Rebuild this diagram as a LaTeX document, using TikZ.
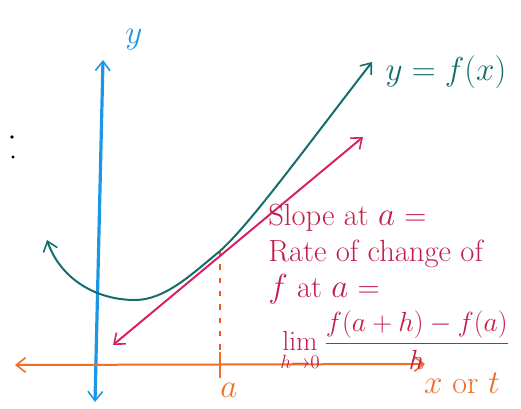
\documentclass[tikz,border=0pt]{standalone}
\usepackage{amsmath, amssymb}
\usetikzlibrary{arrows.meta,positioning,calc}

\definecolor{axisblue}{RGB}{30,150,230}
\definecolor{axisorange}{RGB}{240,110,40}
\definecolor{curveteal}{RGB}{20,110,110}
\definecolor{tanpink}{RGB}{215,35,100}
\definecolor{notered}{RGB}{195,30,75}

\tikzset{
  barb/.style={arrows={Straight Barb[length=7pt,width=11pt,line width=1.2pt]-Straight Barb[length=7pt,width=11pt,line width=1.2pt]}},
  note/.style={text=notered, inner sep=0pt, anchor=west},
}

\begin{document}
\begin{tikzpicture}[x=0.75pt,y=0.75pt,yscale=-1,xscale=1]
\useasboundingbox (0,0) rectangle (521,409);

% axis and curve end points
\coordinate (yTop) at (103,60);
\coordinate (yBot) at (95,402);
\coordinate (xL) at (15,365);
\coordinate (xR) at (425,364);
\coordinate (curveL) at (47,240);
\coordinate (curveMin) at (135,300);
\coordinate (ptA) at (220,251);
\coordinate (curveR) at (372,62);
\coordinate (tanL) at (113,345);
\coordinate (tanR) at (363,137);

%colon at left
\fill (12,137) circle (1.8);
\fill (13,157) circle (1.6);

%y axis
\draw [axisblue, line width=2.4pt, barb]  (yBot) -- (yTop) ;
%x axis
\draw [axisorange, line width=1.5pt, barb]  (xL) -- (xR) ;

%tick and dashed guide at a
\draw [axisorange, line width=1.8pt]  (220,352) -- (220,378) ;
\draw [axisorange!80!red, line width=1pt, dash pattern={on 4pt off 6pt}]  (ptA) -- (220,350) ;

%curve y = f(x)
\draw [curveteal, line width=1.5pt, barb]  (curveL) .. controls (60,278) and (95,300) .. (curveMin)
   .. controls (165,300) and (192,274) .. (ptA)
   .. controls (250,224) and (300,155) .. (curveR) ;

%tangent at a
\draw [tanpink, line width=1.5pt, barb]  (tanL) -- (tanR) ;

% Text Node
\node [text=axisblue, font=\fontsize{24}{24}\selectfont] (ylab) at (134,40) {$y$};
\node [text=curveteal, font=\fontsize{23}{23}\selectfont] (flab) at (446,72) {$y = f(x)$};
\node [text=axisorange, font=\fontsize{24}{24}\selectfont] (alab) at (229,390) {$a$};
\node [text=axisorange, font=\fontsize{24}{24}\selectfont] (xlab) at (462,383) {$x$ or $t$};

% slope note
\node [note, align=left, font=\fontsize{23}{27}\selectfont] (slope) at (268,254) {Slope at $a$ =\\Rate of change of\\$f$ at $a$ =};
\node [note, font=\fontsize{20}{24}\selectfont] (limit) at (280,341) {$\displaystyle\lim_{h\to 0}\frac{f(a+h)-f(a)}{h}$};

\end{tikzpicture}
\end{document}
